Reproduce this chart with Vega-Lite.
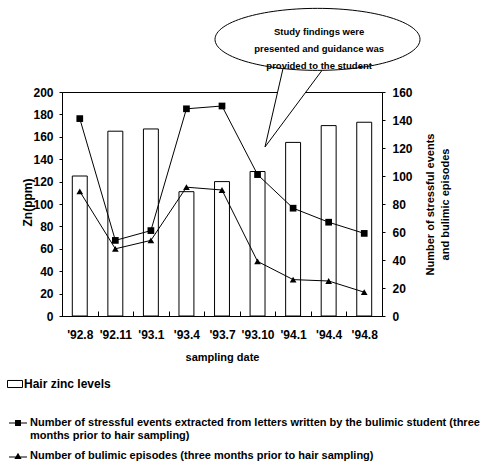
{
  "$schema": "https://vega.github.io/schema/vega-lite/v6.json",
  "width": 320,
  "height": 224,
  "autosize": {"type": "none"},
  "padding": {"left": 62, "top": 92, "right": 104, "bottom": 152},
  "background": "white",
  "config": {
    "view": {"stroke": "black", "strokeWidth": 1},
    "axis": {
      "grid": false,
      "domainColor": "black",
      "tickColor": "black",
      "labelColor": "black",
      "titleColor": "black",
      "labelFont": "Liberation Sans",
      "labelFontWeight": "bold",
      "labelFontSize": 12,
      "titleFont": "Liberation Sans",
      "titleFontWeight": "bold",
      "titleFontSize": 12,
      "domainWidth": 1,
      "tickWidth": 1
    },
    "legend": {
      "labelFont": "Liberation Sans",
      "labelFontSize": 11,
      "labelFontWeight": "bold",
      "labelColor": "black",
      "labelLimit": 1000,
      "padding": 0,
      "offset": 0
    }
  },
  "data": {
    "values": [
      {"date": "'92.8", "zn": 125, "stress": 141, "bulimic": 89},
      {"date": "'92.11", "zn": 165, "stress": 54, "bulimic": 48},
      {"date": "'93.1", "zn": 167, "stress": 61, "bulimic": 54},
      {"date": "'93.4", "zn": 111, "stress": 148, "bulimic": 92},
      {"date": "'93.7", "zn": 120, "stress": 150, "bulimic": 90},
      {"date": "'93.10", "zn": 129, "stress": 101, "bulimic": 39},
      {"date": "'94.1", "zn": 155, "stress": 77, "bulimic": 26},
      {"date": "'94.4", "zn": 170, "stress": 67, "bulimic": 25},
      {"date": "'94.8", "zn": 173, "stress": 59, "bulimic": 17}
    ]
  },
  "encoding": {
    "x": {
      "field": "date",
      "type": "nominal",
      "scale": {
        "domain": ["'92.8", "'92.11", "'93.1", "'93.4", "'93.7", "'93.10", "'94.1", "'94.4", "'94.8"],
        "paddingInner": 0,
        "paddingOuter": 0
      },
      "axis": {
        "title": "sampling date",
        "titleFontSize": 11,
        "titlePadding": 11,
        "labelAngle": 0,
        "tickBand": "extent",
        "tickSize": -5,
        "labelPadding": 18
      }
    }
  },
  "layer": [
    {
      "mark": {"type": "bar", "width": {"band": 0.42}, "stroke": "black", "strokeWidth": 1},
      "encoding": {
        "y": {
          "field": "zn",
          "type": "quantitative",
          "scale": {"domain": [0, 200]},
          "axis": {
            "orient": "left",
            "title": "Zn(ppm)",
            "values": [0, 20, 40, 60, 80, 100, 120, 140, 160, 180, 200],
            "tickSize": 3,
            "labelPadding": 6,
            "titleX": -35,
            "titleY": 110,
            "titleBaseline": "middle",
            "titleAlign": "center",
            "titleAngle": 270
          }
        },
        "fill": {
          "datum": "Hair zinc levels",
          "scale": {"range": ["white"]},
          "legend": {
            "orient": "none",
            "legendX": -55,
            "legendY": 284,
            "title": null,
            "labelFontSize": 12,
            "symbolSize": 225,
            "symbolType": "M-1,-0.47H1V0.47H-1Z",
            "symbolStrokeColor": "black",
            "symbolStrokeWidth": 1,
            "labelOffset": 1
          }
        }
      }
    },
    {
      "mark": {"type": "line", "color": "black", "strokeWidth": 1},
      "encoding": {
        "y": {
          "field": "stress",
          "type": "quantitative",
          "scale": {"domain": [0, 160]},
          "axis": {
            "orient": "right",
            "values": [0, 20, 40, 60, 80, 100, 120, 140, 160],
            "tickSize": 3,
            "labelPadding": 7,
            "title": ["Number of stressful events", "and bulimic episodes"],
            "titleFontSize": 11,
            "titleLineHeight": 15,
            "titleAngle": 270,
            "titleBaseline": "middle",
            "titleAlign": "center",
            "titleX": 48,
            "titleY": 112
          }
        }
      }
    },
    {
      "mark": {"type": "point", "shape": "square", "filled": true, "color": "black", "size": 45, "opacity": 1},
      "encoding": {
        "y": {"field": "stress", "type": "quantitative", "scale": {"domain": [0, 160]}, "axis": null},
        "fill": {
          "datum": "Number of stressful events extracted from letters written by the bulimic student (three|months prior to hair sampling)",
          "scale": {"range": ["black"]},
          "legend": {
            "orient": "none",
            "legendX": -54,
            "legendY": 321,
            "title": null,
            "symbolSize": 324,
            "symbolType": "M-1,-0.06H1V0.06H-1ZM-0.33,-0.33H0.33V0.33H-0.33Z",
            "labelOffset": 2,
            "labelExpr": "split(datum.label, '|')",
            "encode": {
              "labels": {"update": {"lineHeight": {"value": 16}}}
            }
          }
        }
      }
    },
    {
      "mark": {"type": "line", "color": "black", "strokeWidth": 1},
      "encoding": {
        "y": {"field": "bulimic", "type": "quantitative", "scale": {"domain": [0, 160]}, "axis": null}
      }
    },
    {
      "mark": {"type": "point", "shape": "triangle-up", "filled": true, "color": "black", "size": 45, "opacity": 1},
      "encoding": {
        "y": {"field": "bulimic", "type": "quantitative", "scale": {"domain": [0, 160]}, "axis": null},
        "fill": {
          "datum": "Number of bulimic episodes (three months prior to hair sampling)",
          "scale": {"range": ["black"]},
          "legend": {
            "orient": "none",
            "legendX": -54,
            "legendY": 354,
            "title": null,
            "symbolSize": 324,
            "symbolType": "M-1,0.06H1V0.18H-1ZM-0.4,0.33L0,-0.37L0.4,0.33Z",
            "labelOffset": 2
          }
        }
      }
    },
    {
      "data": {"values": [{"date": "'94.1"}]},
      "mark": {
        "type": "point",
        "shape": "M1.269,0C1.269,0.171,0.810,0.31,0.244,0.31C-0.322,0.31,-0.781,0.171,-0.781,0C-0.781,-0.171,-0.322,-0.31,0.244,-0.31C0.810,-0.31,1.269,-0.171,1.269,0ZM-0.101,0.292L-0.281,1.076L0.289,0.31",
        "size": 40000,
        "filled": true,
        "fill": "white",
        "stroke": "black",
        "strokeWidth": 1,
        "opacity": 1
      },
      "encoding": {
        "y": {"datum": 247, "type": "quantitative", "scale": {"domain": [0, 200]}, "axis": null}
      }
    },
    {
      "data": {"values": [{"date": "'94.1", "note": ["Study  findings were", "presented and guidance was", "provided to the student"]}]},
      "mark": {
        "type": "text",
        "font": "Liberation Sans",
        "fontWeight": "bold",
        "fontSize": 9.5,
        "lineHeight": 17,
        "dx": 26,
        "align": "center",
        "baseline": "middle",
        "color": "black"
      },
      "encoding": {
        "y": {"datum": 253.5, "type": "quantitative", "scale": {"domain": [0, 200]}, "axis": null},
        "text": {"field": "note"}
      }
    }
  ],
  "resolve": {
    "scale": {"y": "independent", "fill": "independent"}
  }
}
